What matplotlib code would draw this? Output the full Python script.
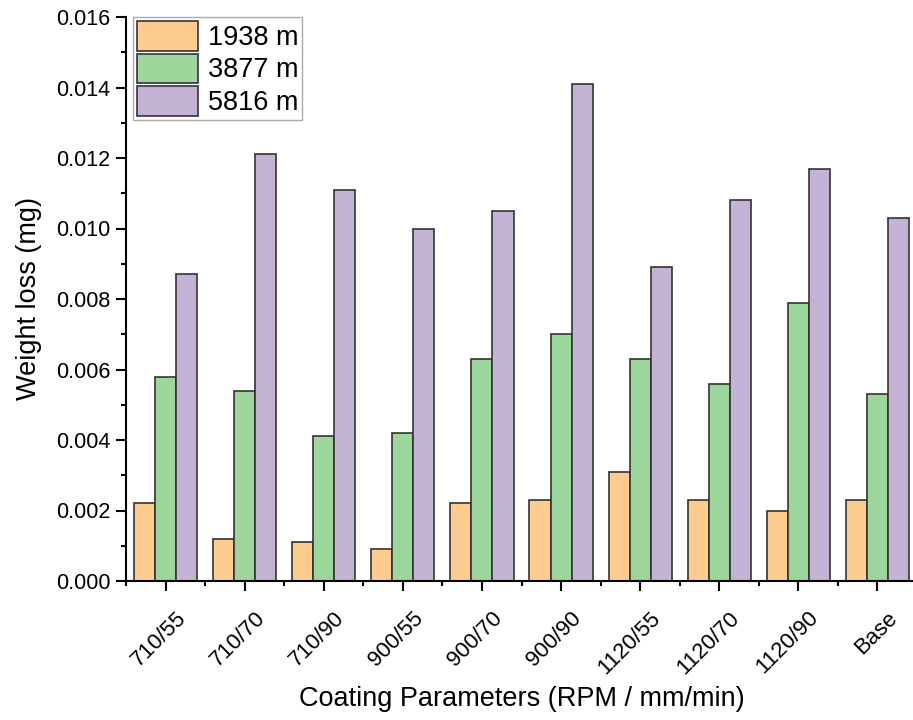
import matplotlib
matplotlib.use("Agg")
import matplotlib.pyplot as plt
import matplotlib.transforms as mtransforms
import numpy as np
from matplotlib.ticker import MultipleLocator, FixedLocator, FormatStrFormatter

plt.rcParams['font.family'] = ['Liberation Sans', 'DejaVu Sans']

categories = ["710/55", "710/70", "710/90", "900/55", "900/70",
              "900/90", "1120/55", "1120/70", "1120/90", "Base"]
loss_1938 = [0.0022, 0.0012, 0.0011, 0.0009, 0.0022, 0.0023, 0.0031, 0.0023, 0.0020, 0.0023]
loss_3877 = [0.0058, 0.0054, 0.0041, 0.0042, 0.0063, 0.0070, 0.0063, 0.0056, 0.0079, 0.0053]
loss_5816 = [0.0087, 0.0121, 0.0111, 0.0100, 0.0105, 0.0141, 0.0089, 0.0108, 0.0117, 0.0103]
series_labels = ["1938 m", "3877 m", "5816 m"]
colors = ["#FFCC8F", "#9DD69A", "#C5B3D6"]

fig = plt.figure(figsize=(9.13, 7.2), dpi=100)
ax = fig.add_axes([126 / 913, 139 / 720, 791 / 913, 564 / 720])

x = np.arange(len(categories))
w = 0.8 / 3
for i, (vals, lab, col) in enumerate(zip([loss_1938, loss_3877, loss_5816], series_labels, colors)):
    ax.bar(x + (i - 1) * w, vals, width=w, color=col, edgecolor="#333333",
           linewidth=1.2, label=lab, zorder=2)

ax.set_xlim(-0.5, 9.5)
ax.set_ylim(0, 0.016)
ax.spines['top'].set_visible(False)
ax.spines['right'].set_visible(False)
ax.spines['left'].set_linewidth(1.5)
ax.spines['bottom'].set_linewidth(1.5)

ax.yaxis.set_major_locator(MultipleLocator(0.002))
ax.yaxis.set_minor_locator(MultipleLocator(0.001))
ax.yaxis.set_major_formatter(FormatStrFormatter('%.3f'))
ax.xaxis.set_minor_locator(FixedLocator(np.arange(-0.5, 9.6, 1.0)))

ax.tick_params(axis='both', which='major', direction='out', length=7, width=1.5)
ax.tick_params(axis='both', which='minor', direction='out', length=3.5, width=1.5)
ax.tick_params(axis='y', which='major', labelsize=15.5, pad=4)
ax.tick_params(axis='x', which='major', labelsize=16, pad=5)

ax.set_xticks(x)
ax.set_xticklabels(categories, rotation=45, ha='right', rotation_mode='anchor')

# nudge the rotated category labels right and down
shift = mtransforms.ScaledTranslation(7 / 72, -7 / 72, fig.dpi_scale_trans)
for lbl in ax.get_xticklabels():
    lbl.set_transform(lbl.get_transform() + shift)

ax.set_xlabel("Coating Parameters (RPM / mm/min)", fontsize=19.5, labelpad=6)
ax.set_ylabel("Weight loss (mg)", fontsize=19.5, labelpad=10)

leg = ax.legend(loc='upper left', bbox_to_anchor=(0.009, 1.0), fontsize=19.5,
                handlelength=2.25, handleheight=1.3, labelspacing=0.1,
                handletextpad=0.35, borderpad=0.15, borderaxespad=0.0,
                fancybox=False, framealpha=1.0)
leg.get_frame().set_edgecolor("#AAAAAA")
leg.get_frame().set_linewidth(1.0)

fig.savefig("out.png", dpi=100)
